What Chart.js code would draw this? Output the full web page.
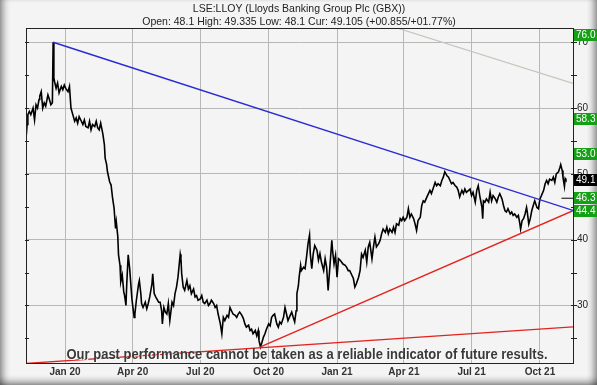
<!DOCTYPE html>
<html>
<head>
<meta charset="utf-8">
<script src="https://cdn.jsdelivr.net/npm/chart.js@4.4.1/dist/chart.umd.min.js"></script>
<style>
html,body{margin:0;padding:0;background:#f4f4f4;}
#frame{position:relative;width:597px;height:385px;overflow:hidden;background:#f4f4f4;
  box-shadow: inset 8px 0 7px -5px rgba(0,0,0,0.45), inset -8px 0 7px -5px rgba(0,0,0,0.45), inset 0 -8px 7px -5px rgba(0,0,0,0.45);}
canvas{position:absolute;left:0;top:0;}
</style>
</head>
<body>
<div id="frame"><canvas id="c" width="597" height="385"></canvas></div>
<script>
const titleText = "LSE:LLOY (Lloyds Banking Group Plc (GBX))";
const subtitleText = "Open: 48.1 High: 49.335 Low: 48.1 Cur: 49.105 (+00.855/+01.77%)";
const disclaimerText = "Our past performance cannot be taken as a reliable indicator of future results.";

// Days counted from 1 Jan 2020
const days = [
  -52,-51,-50,-48,-46,-43,-41,-39,-37,-35,
  -34,-32,-30,-28,-26,-23,-21,-19,-17,-16,
  -15,-14,-12,-10,-8,-5,-3,-1,1,4,
  6,8,10,13,15,17,19,22,24,26,
  28,31,33,35,37,40,42,44,46,48,
  51,53,54,56,57,60,62,64,66,68,
  69,71,72,74,75,77,79,80,82,83,
  85,87,90,93,94,96,99,100,102,103,
  105,108,110,112,114,117,118,120,122,126,
  128,130,131,133,135,137,139,141,144,146,
  148,150,152,155,156,157,159,161,164,166,
  168,170,173,175,177,179,182,184,186,188,
  191,193,195,197,200,202,204,206,209,211,
  213,215,218,220,222,224,226,229,231,233,
  235,238,240,242,244,247,249,251,253,256,
  258,260,261,263,265,267,269,271,274,276,
  278,280,282,285,287,289,291,294,296,298,
  300,303,305,307,309,311,312,314,315,317,
  318,321,323,325,327,329,330,332,334,336,
  339,341,343,345,348,350,352,354,356,359,
  360,362,364,366,368,370,372,374,377,379,
  381,383,386,388,390,392,395,397,399,401,
  404,406,408,410,413,415,417,419,422,424,
  426,428,431,433,435,437,440,442,444,446,
  449,451,453,455,457,460,462,464,466,469,
  471,473,475,478,480,482,484,487,489,491,
  493,496,498,500,502,505,507,509,511,514,
  516,518,520,522,525,527,529,531,534,536,
  538,540,543,545,547,549,552,554,556,558,
  561,562,563,565,567,570,572,574,576,579,
  581,583,585,588,590,592,594,596,599,601,
  603,605,608,610,612,613,615,617,619,621,
  622,624,626,628,630,632,635,637,639,641,
  644,646,648,650,652,655,657,659,661,664,
  666,667,669,670,672,673,674
];
const prices = [
  56.0,57.5,59.0,59.5,59.0,60.0,58.2,60.5,60.0,61.3,
  61.8,62.5,60.0,60.8,60.3,62.0,61.3,60.5,60.8,70.0,
  64.6,64.0,63.0,63.8,62.3,63.3,62.8,63.5,63.0,62.5,
  63.3,60.0,59.2,58.0,58.5,57.7,58.7,58.0,57.5,58.2,
  57.2,57.0,58.0,56.7,57.5,57.2,58.0,57.0,56.7,57.7,
  56.0,54.4,52.4,51.4,50.4,48.8,48.3,46.3,44.8,41.7,
  42.7,40.5,37.7,36.1,33.6,34.6,32.1,31.6,30.0,33.1,
  37.7,35.6,31.0,28.2,28.7,30.8,33.3,33.8,31.8,30.3,
  29.7,30.5,29.5,30.3,31.3,33.3,34.8,31.8,31.3,30.5,
  30.5,29.2,27.2,29.7,29.0,28.7,30.3,27.7,30.5,30.0,
  31.8,32.8,34.3,37.8,37.1,34.8,32.8,32.3,33.8,32.5,
  33.0,31.8,32.5,31.3,31.5,30.8,31.0,31.5,30.5,30.3,
  30.8,30.0,30.3,30.8,30.3,29.7,30.0,28.7,27.2,25.7,
  28.2,27.7,28.5,28.2,29.7,29.2,28.7,28.5,28.2,28.7,
  29.0,28.5,28.0,27.2,26.7,27.0,26.2,26.4,25.7,26.2,
  25.4,26.2,24.7,23.7,24.4,25.2,25.7,26.4,27.2,26.9,
  28.2,28.5,28.7,27.2,26.7,27.5,27.2,28.2,29.7,28.7,
  27.7,28.5,29.0,28.2,27.5,29.2,31.8,33.0,34.3,36.1,
  35.3,35.8,35.6,37.4,39.4,40.7,37.9,35.6,37.9,39.1,
  38.4,36.9,37.9,36.6,35.3,37.1,35.8,32.3,35.3,39.9,
  38.4,36.3,37.6,34.3,37.1,36.9,36.6,36.3,36.1,35.8,
  35.3,35.3,34.6,34.1,32.8,33.3,34.3,35.3,37.8,37.3,
  38.4,36.6,38.9,39.6,37.1,38.9,40.4,38.9,39.4,39.9,
  40.9,41.6,41.1,41.9,40.9,41.6,41.1,41.9,41.1,42.4,
  42.2,43.2,42.9,43.4,42.9,43.4,44.7,43.4,43.9,43.2,
  42.4,41.4,42.9,43.4,45.2,45.9,45.7,46.5,47.0,47.5,
  47.0,48.0,48.7,48.2,48.5,48.2,49.0,49.5,50.3,49.7,
  49.5,49.0,48.5,48.7,48.2,48.0,47.5,46.5,47.5,47.0,
  47.7,47.2,47.5,47.7,46.7,47.2,45.7,47.5,48.2,46.7,
  44.9,43.2,45.9,45.7,46.2,45.7,47.2,45.9,46.7,46.2,
  45.7,46.5,47.0,46.2,45.2,44.4,44.2,44.7,43.9,44.2,
  43.7,43.9,43.4,43.7,42.4,41.6,42.9,43.2,43.9,44.9,
  44.2,42.4,43.2,44.4,45.2,45.9,44.9,44.7,46.2,46.7,
  47.5,48.5,49.0,48.5,49.2,49.0,49.5,48.7,50.0,50.3,
  51.0,51.4,50.5,49.5,48.1,49.3,49.1
];

// Trend lines (day, value)
const blueDays = [-16, 683.5];
const blueValues = [70.0, 44.45];
const redUpperDays = [263, 683.5];
const redUpperValues = [23.7, 44.4];
const redLowerDays = [-52.5, 683.5];
const redLowerValues = [21.2, 26.75];
const greyDays = [440, 683.5];
const greyValues = [72.41, 63.76];
const markerDays = [668, 683.5];
const markerValues = [46.3, 46.3];

// Axis
const xMin = -52.5, xMax = 683.5;
const yMin = 21.26, yMax = 72.17;
const xTickDays = [0, 91, 182, 274, 366, 456, 547, 639];
const xTickLabels = ["Jan 20","Apr 20","Jul 20","Oct 20","Jan 21","Apr 21","Jul 21","Oct 21"];
const yTickValues = [25, 30, 35, 40, 45, 50, 55, 60, 65, 70];

// Price level labels on the right
const targetLevels = [76.0, 58.3, 53.0, 46.3, 44.4];
const currentLevel = 49.1;

const pts = (xs, ys) => xs.map((x, i) => ({x: x, y: ys[i]}));

const decor = {
  id: 'decor',
  afterDatasetsDraw(chart) {
    const {ctx, chartArea: a, scales: {y}} = chart;
    ctx.save();
    ctx.strokeStyle = '#222';
    ctx.lineWidth = 1;
    ctx.strokeRect(a.left + 0.5, a.top + 0.5, a.right - a.left, a.bottom - a.top);
    ctx.beginPath();
    yTickValues.forEach(v => {
      const py = Math.round(y.getPixelForValue(v)) + 0.5;
      ctx.moveTo(a.left - 1, py); ctx.lineTo(a.left + 3, py);
      ctx.moveTo(a.right - 2, py); ctx.lineTo(a.right + 4, py);
    });
    ctx.stroke();
    ctx.font = "bold 14px 'Liberation Sans Narrow', 'Liberation Sans', Arial, sans-serif";
    const w = ctx.measureText(disclaimerText).width;
    const target = 481;
    ctx.translate(307, 359);
    ctx.scale(target / w, 1);
    ctx.textAlign = 'center';
    ctx.textBaseline = 'alphabetic';
    ctx.fillStyle = 'rgba(255,255,255,0.9)';
    ctx.fillText(disclaimerText, 1, 1);
    ctx.fillStyle = '#3a3a3a';
    ctx.fillText(disclaimerText, 0, 0);
    ctx.restore();
  },
  afterDraw(chart) {
    const {ctx, chartArea: a, scales: {y}} = chart;
    ctx.save();
    ctx.fillStyle = '#222';
    ctx.textAlign = 'center';
    ctx.textBaseline = 'middle';
    ctx.font = "10.5px 'Liberation Sans', Arial, sans-serif";
    ctx.fillText(titleText, 299, 9);
    ctx.fillText(subtitleText, 299, 22);
    ctx.textAlign = 'left';
    ctx.font = "10px 'Liberation Sans', Arial, sans-serif";
    const drawBox = (v, bg) => {
      let cy = y.getPixelForValue(v);
      cy = Math.max(cy, a.top + 7);
      const top = Math.round(cy - 6);
      ctx.fillStyle = bg;
      ctx.fillRect(a.right + 1, top, chart.width - a.right - 1, 12);
      ctx.fillStyle = '#ffffff';
      ctx.fillText(v.toFixed(1), a.right + 3, top + 6.5);
    };
    targetLevels.forEach(v => drawBox(v, '#14a014'));
    drawBox(currentLevel, '#000000');
    ctx.restore();
  }
};

new Chart(document.getElementById('c').getContext('2d'), {
  type: 'line',
  data: {
    datasets: [
      {data: pts(markerDays, markerValues), borderColor: '#000', borderWidth: 1},
      {data: pts(blueDays, blueValues), borderColor: '#2a2ad2', borderWidth: 1.4},
      {data: pts(redUpperDays, redUpperValues), borderColor: '#e2241e', borderWidth: 1.4},
      {data: pts(redLowerDays, redLowerValues), borderColor: '#e2241e', borderWidth: 1.4},
      {data: pts(greyDays, greyValues), borderColor: '#c6c6be', borderWidth: 1.2},
      {data: pts(days, prices), borderColor: '#000', borderWidth: 1.6}
    ]
  },
  options: {
    responsive: false,
    animation: false,
    devicePixelRatio: 1,
    layout: {padding: {left: 26, right: 0, top: 28, bottom: 8}},
    elements: {point: {radius: 0}, line: {tension: 0}},
    plugins: {legend: {display: false}, tooltip: {enabled: false}, title: {display: false}},
    scales: {
      x: {
        type: 'linear', min: xMin, max: xMax,
        afterBuildTicks: s => { s.ticks = xTickDays.map(v => ({value: v})); },
        afterFit: s => { s.height = 14; },
        ticks: {
          autoSkip: false, maxRotation: 0, padding: 3,
          callback: (v, i) => xTickLabels[i],
          font: {family: "'Liberation Sans', Arial, sans-serif", size: 10, weight: 'bold'},
          color: '#333'
        },
        grid: {color: '#b8b8b8', lineWidth: 1, drawTicks: false},
        border: {display: false}
      },
      y: {
        type: 'linear', position: 'right', min: yMin, max: yMax,
        afterBuildTicks: s => { s.ticks = yTickValues.map(v => ({value: v})); },
        afterFit: s => { s.width = 24; },
        ticks: {
          padding: 4,
          callback: v => (v % 10 === 0 ? String(v) : ''),
          font: {family: "'Liberation Sans', Arial, sans-serif", size: 10},
          color: '#222'
        },
        grid: {color: c => (c.tick && c.tick.value % 10 === 0 ? '#b8b8b8' : 'rgba(0,0,0,0)'), drawTicks: false},
        border: {display: false}
      }
    }
  },
  plugins: [decor]
});
</script>
</body>
</html>
